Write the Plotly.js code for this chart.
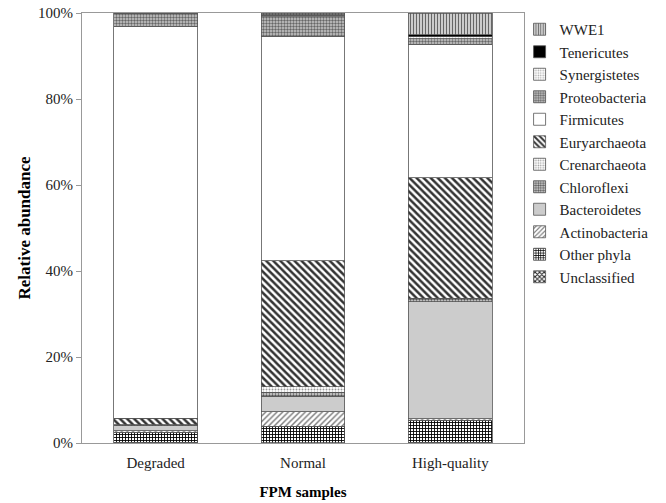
<!DOCTYPE html>
<html>
<head>
<meta charset="utf-8">
<script src="https://cdn.plot.ly/plotly-3.0.1.min.js"></script>
<style>html,body{margin:0;padding:0;background:#fff;}#chart{width:666px;height:503px;}</style>
</head>
<body>
<div id="chart"></div>
<script>
const samples = ["Degraded", "Normal", "High-quality"];
const unclassified   = [0.2, 0.1, 0.2];
const otherPhyla     = [2.3, 3.8, 5.1];
const actinobacteria = [0.3, 3.35, 0.3];
const bacteroidetes  = [1.2, 3.6, 27.3];
const chloroflexi    = [0.2, 0.9, 0.6];
const crenarchaeota  = [0.1, 1.3, 0.2];
const euryarchaeota  = [1.4, 29.35, 28.0];
const firmicutes     = [91.2, 52.2, 31.0];
const proteobacteria = [2.9, 4.5, 1.3];
const synergistetes  = [0.1, 0.4, 0.5];
const tenericutes    = [0.3, 0.1, 0.4];
const wwe1           = [0.0, 0.4, 5.1];

const yTickVals = [0, 20, 40, 60, 80, 100];
const yTickText = ["0%", "20%", "40%", "60%", "80%", "100%"];

const seriesNames = ["Unclassified","Other phyla","Actinobacteria","Bacteroidetes","Chloroflexi","Crenarchaeota","Euryarchaeota","Firmicutes","Proteobacteria","Synergistetes","Tenericutes","WWE1"];
const seriesValues = [unclassified, otherPhyla, actinobacteria, bacteroidetes, chloroflexi, crenarchaeota, euryarchaeota, firmicutes, proteobacteria, synergistetes, tenericutes, wwe1];

const styles = [
  {color:'#ffffff', pattern:{shape:'x', fgcolor:'#222', bgcolor:'#fff', size:4, solidity:0.5}},
  {color:'#ffffff', pattern:{shape:'+', fgcolor:'#000', bgcolor:'#fff', size:3, solidity:0.5}},
  {color:'#ffffff', pattern:{shape:'/', fgcolor:'#777', bgcolor:'#fff', size:4, solidity:0.35}},
  {color:'#cccccc'},
  {color:'#ffffff', pattern:{shape:'.', fgcolor:'#555', bgcolor:'#ddd', size:3, solidity:0.5}},
  {color:'#ffffff', pattern:{shape:'.', fgcolor:'#999', bgcolor:'#fff', size:3, solidity:0.3}},
  {color:'#ffffff', pattern:{shape:'\\', fgcolor:'#333', bgcolor:'#fff', size:5, solidity:0.5}},
  {color:'#ffffff'},
  {color:'#ffffff', pattern:{shape:'.', fgcolor:'#666', bgcolor:'#ccc', size:3, solidity:0.5}},
  {color:'#ffffff', pattern:{shape:'.', fgcolor:'#aaa', bgcolor:'#fff', size:3, solidity:0.3}},
  {color:'#000000'},
  {color:'#ffffff', pattern:{shape:'|', fgcolor:'#666', bgcolor:'#eee', size:3, solidity:0.5}}
];

const traces = seriesNames.map((name, i) => ({
  type:'bar', name: name, x: samples, y: seriesValues[i],
  marker: Object.assign({line:{color:'#555', width:0.8}}, styles[i])
}));

const fam = 'Liberation Serif, Times New Roman, serif';
const layout = {
  width:666, height:503,
  margin:{l:82, r:126, t:13, b:60},
  barmode:'stack', bargap:0.43,
  paper_bgcolor:'#fff', plot_bgcolor:'#fff',
  font:{family:fam, size:15, color:'#222'},
  showlegend:true,
  legend:{x:0.99, xanchor:'left', y:1.0, yanchor:'top', traceorder:'reversed',
          font:{family:fam, size:15, color:'#222'}, bgcolor:'rgba(0,0,0,0)', itemwidth:30, tracegroupgap:0},
  xaxis:{showline:true, linecolor:'#999', linewidth:1, mirror:true, ticks:'', showgrid:false,
         ticklabelstandoff:6,
         tickfont:{family:fam, size:15, color:'#222'},
         title:{text:'<b>FPM samples</b>', font:{family:fam, size:15, color:'#000'}, standoff:16}},
  yaxis:{range:[0,100], tickmode:'array', tickvals:yTickVals, ticktext:yTickText, showline:true, linecolor:'#999', linewidth:1,
         mirror:true, ticks:'outside', ticklen:5, tickcolor:'#999', showgrid:false, zeroline:false,
         tickfont:{family:fam, size:15, color:'#222'},
         title:{text:'<b>Relative abundance</b>', font:{family:fam, size:17, color:'#000'}, standoff:3}}
};

Plotly.newPlot('chart', traces, layout, {displayModeBar:false, staticPlot:true});
</script>
</body>
</html>
